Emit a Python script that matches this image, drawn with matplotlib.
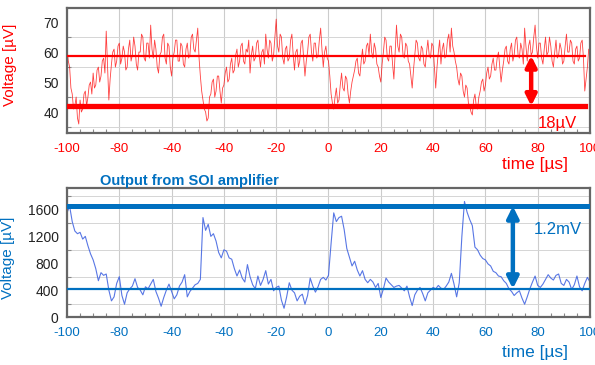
import numpy as np
import matplotlib
matplotlib.use('Agg')
import matplotlib.pyplot as plt
from matplotlib.ticker import MultipleLocator

RED = '#ff0000'
BLUE = '#0070c0'
TRACE_BLUE = '#3b5fe0'

# time axes in microseconds
time_top = np.arange(-100, 100.5, 0.5)
time_soi = np.arange(-100, 101)
tick_pos = [-100, -80, -60, -40, -20, 0, 20, 40, 60, 80, 100]
tick_text = ['-100', '-80', '-40', '-40', '-20', '0', '20', '40', '60', '80', '100']

# top panel: raw noise trace, uV (0.5 us steps)
top_trace = [
    61, 57, 55, 48, 46, 41, 42, 45, 38, 36, 44, 40, 41, 46, 47, 42, 45, 49, 50, 46,
    53, 48, 49, 54, 55, 50, 52, 57, 58, 53, 67, 55, 44, 51, 56, 60, 61, 55, 57, 62,
    63, 56, 58, 62, 60, 54, 55, 61, 64, 57, 59, 65, 62, 56, 54, 60, 60, 66, 65, 58,
    57, 63, 63, 58, 69, 61, 58, 64, 61, 55, 53, 59, 60, 65, 66, 58, 56, 63, 62, 55,
    52, 58, 60, 64, 64, 57, 57, 63, 62, 56, 55, 61, 63, 58, 59, 65, 66, 61, 60, 64,
    68, 58, 52, 47, 44, 41, 40, 37, 38, 45, 46, 50, 51, 45, 47, 52, 52, 47, 43, 48,
    49, 53, 55, 50, 51, 56, 58, 53, 54, 59, 61, 55, 57, 62, 63, 57, 56, 61, 60, 64,
    53, 59, 62, 57, 58, 63, 64, 59, 55, 60, 61, 56, 66, 61, 58, 64, 63, 57, 59, 65,
    71, 62, 60, 66, 65, 58, 56, 61, 62, 57, 58, 64, 66, 59, 54, 60, 61, 55, 57, 63,
    64, 58, 52, 57, 60, 65, 66, 60, 57, 63, 63, 58, 59, 64, 68, 61, 55, 60, 62, 58,
    57, 52, 46, 43, 41, 45, 48, 43, 44, 49, 53, 48, 47, 52, 51, 46, 43, 47, 50, 52,
    54, 57, 58, 53, 52, 57, 61, 56, 57, 62, 63, 59, 66, 60, 58, 63, 61, 56, 55, 52,
    50, 56, 60, 65, 64, 58, 57, 62, 62, 56, 51, 60, 69, 62, 60, 66, 65, 59, 58, 63,
    62, 57, 56, 52, 48, 54, 59, 64, 63, 58, 57, 62, 61, 56, 55, 60, 64, 59, 58, 63,
    62, 55, 48, 55, 60, 64, 56, 61, 63, 58, 59, 64, 66, 60, 68, 62, 60, 57, 55, 51,
    49, 53, 52, 47, 45, 49, 48, 43, 42, 40, 39, 44, 46, 42, 41, 45, 47, 50, 51, 47,
    49, 53, 55, 51, 52, 56, 58, 54, 54, 58, 60, 55, 50, 54, 57, 61, 62, 57, 56, 61,
    63, 57, 59, 64, 65, 59, 58, 63, 61, 56, 68, 62, 57, 62, 64, 59, 60, 65, 69, 62,
    58, 63, 63, 58, 56, 61, 65, 59, 60, 65, 62, 57, 55, 60, 64, 58, 59, 63, 61, 56,
    57, 62, 66, 60, 60, 64, 63, 57, 56, 61, 62, 57, 58, 63, 64, 58, 47, 51, 55, 61,
    60,
]
top_mean = 58.8
top_base = 42.0

# bottom panel: SOI amplifier output, uV (1 us steps)
soi_trace = [
    1550, 1650, 1420, 1280, 1240, 1260, 1160, 1200, 1060, 940,
    850, 720, 540, 660, 620, 640, 400, 240, 300, 500,
    600, 320, 190, 360, 420, 460, 570, 440, 400, 330,
    450, 420, 490, 560, 380, 280, 160, 290, 400, 490,
    380, 270, 330, 460, 520, 630, 300, 380, 430, 480,
    500, 560, 1480, 1290, 1380, 1200, 1240, 1130, 960, 880,
    1000, 980, 880, 860, 720, 610, 700, 580, 520, 780,
    600, 480, 420, 610, 470, 560, 690, 490, 560, 390,
    440, 460, 250, 130, 300, 510, 400, 360, 240, 310,
    340, 190, 320, 580, 460, 370, 450, 560, 590, 550,
    620, 1100, 1550, 1420, 1480, 1500, 1300, 1020, 890, 760,
    830, 700, 610, 690, 560, 510, 560, 520, 440, 500,
    290, 420, 580, 520, 480, 440, 460, 470, 430, 390,
    460, 300, 170, 330, 400, 440, 350, 240, 360, 400,
    440, 420, 470, 430, 410, 460, 520, 650, 490, 300,
    510, 1200, 1720, 1560, 1450, 1360, 1040, 1000, 920, 870,
    850, 790, 760, 680, 660, 610, 600, 540, 500, 420,
    380, 320, 360, 390, 280, 190, 300, 420, 520, 610,
    470, 440, 490, 560, 630, 580, 550, 620, 640, 500,
    470, 560, 520, 410, 480, 610, 450, 390, 500, 590,
    520,
]
soi_peak = 1650
soi_base = 420

plt.rcParams['font.family'] = ['Liberation Sans', 'DejaVu Sans']


def style_axes(ax, color):
    for s in ax.spines.values():
        s.set_color('#666666')
        s.set_linewidth(1.6)
    ax.set_xlim(-100, 100)
    ax.set_xticks(tick_pos)
    ax.set_xticklabels(tick_text)
    ax.xaxis.set_minor_locator(MultipleLocator(5))
    ax.tick_params(axis='x', which='major', length=0, pad=7,
                   labelsize=9.5, labelcolor=color)
    ax.tick_params(axis='y', which='major', length=0, pad=6,
                   labelsize=10, labelcolor='#222222')
    ax.tick_params(which='minor', direction='in', length=3,
                   color='#888888', width=0.8)
    ax.grid(True, which='major', axis='x', color='#cccccc', lw=0.8)
    ax.grid(True, which='minor', axis='y', color='#d5d5d5', lw=0.7)
    ax.set_axisbelow(True)


fig = plt.figure(figsize=(5.95, 3.65), dpi=100)

# ---- top panel
ax1 = fig.add_axes([0.1126, 0.6356, 0.879, 0.3424])
style_axes(ax1, RED)
ax1.set_ylim(33, 74.7)
ax1.set_yticks([40, 50, 60, 70])
ax1.yaxis.set_minor_locator(MultipleLocator(5))
ax1.plot(time_top, top_trace, color=RED, lw=0.6, alpha=0.75, zorder=2)
ax1.axhline(top_mean, xmax=0.99, color=RED, lw=1.6, zorder=3)
ax1.axhline(top_base, xmax=0.99, color=RED, lw=3.8, zorder=3)
ax1.annotate('', xy=(77.5, top_base), xytext=(77.5, top_mean),
             arrowprops=dict(arrowstyle='<|-|>', color=RED, lw=3.2,
                             mutation_scale=16, shrinkA=0, shrinkB=0),
             zorder=4)
ax1.text(0.938, 0.08, '18µV', transform=ax1.transAxes, color=RED,
         fontsize=12, ha='center', va='center')
ax1.set_ylabel('Voltage [µV]', color=RED, fontsize=11)
ax1.yaxis.set_label_coords(-0.096, 0.544)

# ---- bottom panel
ax2 = fig.add_axes([0.1126, 0.1315, 0.879, 0.3534])
style_axes(ax2, BLUE)
ax2.set_ylim(0, 1920)
ax2.set_yticks([0, 400, 800, 1200, 1600])
ax2.yaxis.set_minor_locator(MultipleLocator(200))
ax2.plot(time_soi, soi_trace, color=TRACE_BLUE, lw=0.8, alpha=0.85, zorder=2)
ax2.axhline(soi_peak, color=BLUE, lw=3.6, zorder=3)
ax2.axhline(soi_base, color=BLUE, lw=1.6, zorder=3)
ax2.annotate('', xy=(70.5, soi_base), xytext=(70.5, soi_peak),
             arrowprops=dict(arrowstyle='<|-|>', color=BLUE, lw=3.2,
                             mutation_scale=17, shrinkA=0, shrinkB=0),
             zorder=4)
ax2.text(87.5, 1300, '1.2mV', color=BLUE, fontsize=12,
         ha='center', va='center')
ax2.set_ylabel('Voltage [µV]', color=BLUE, fontsize=11)
ax2.yaxis.set_label_coords(-0.099, 0.457)

fig.text(0.318, 0.504, 'Output from SOI amplifier', color=BLUE,
         fontsize=10.5, fontweight='bold', ha='center', va='center')
fig.text(0.899, 0.548, 'time [µs]', color=RED, fontsize=12.5,
         ha='center', va='center')
fig.text(0.899, 0.033, 'time [µs]', color=BLUE, fontsize=12.5,
         ha='center', va='center')

fig.savefig('out.png', dpi=100)
